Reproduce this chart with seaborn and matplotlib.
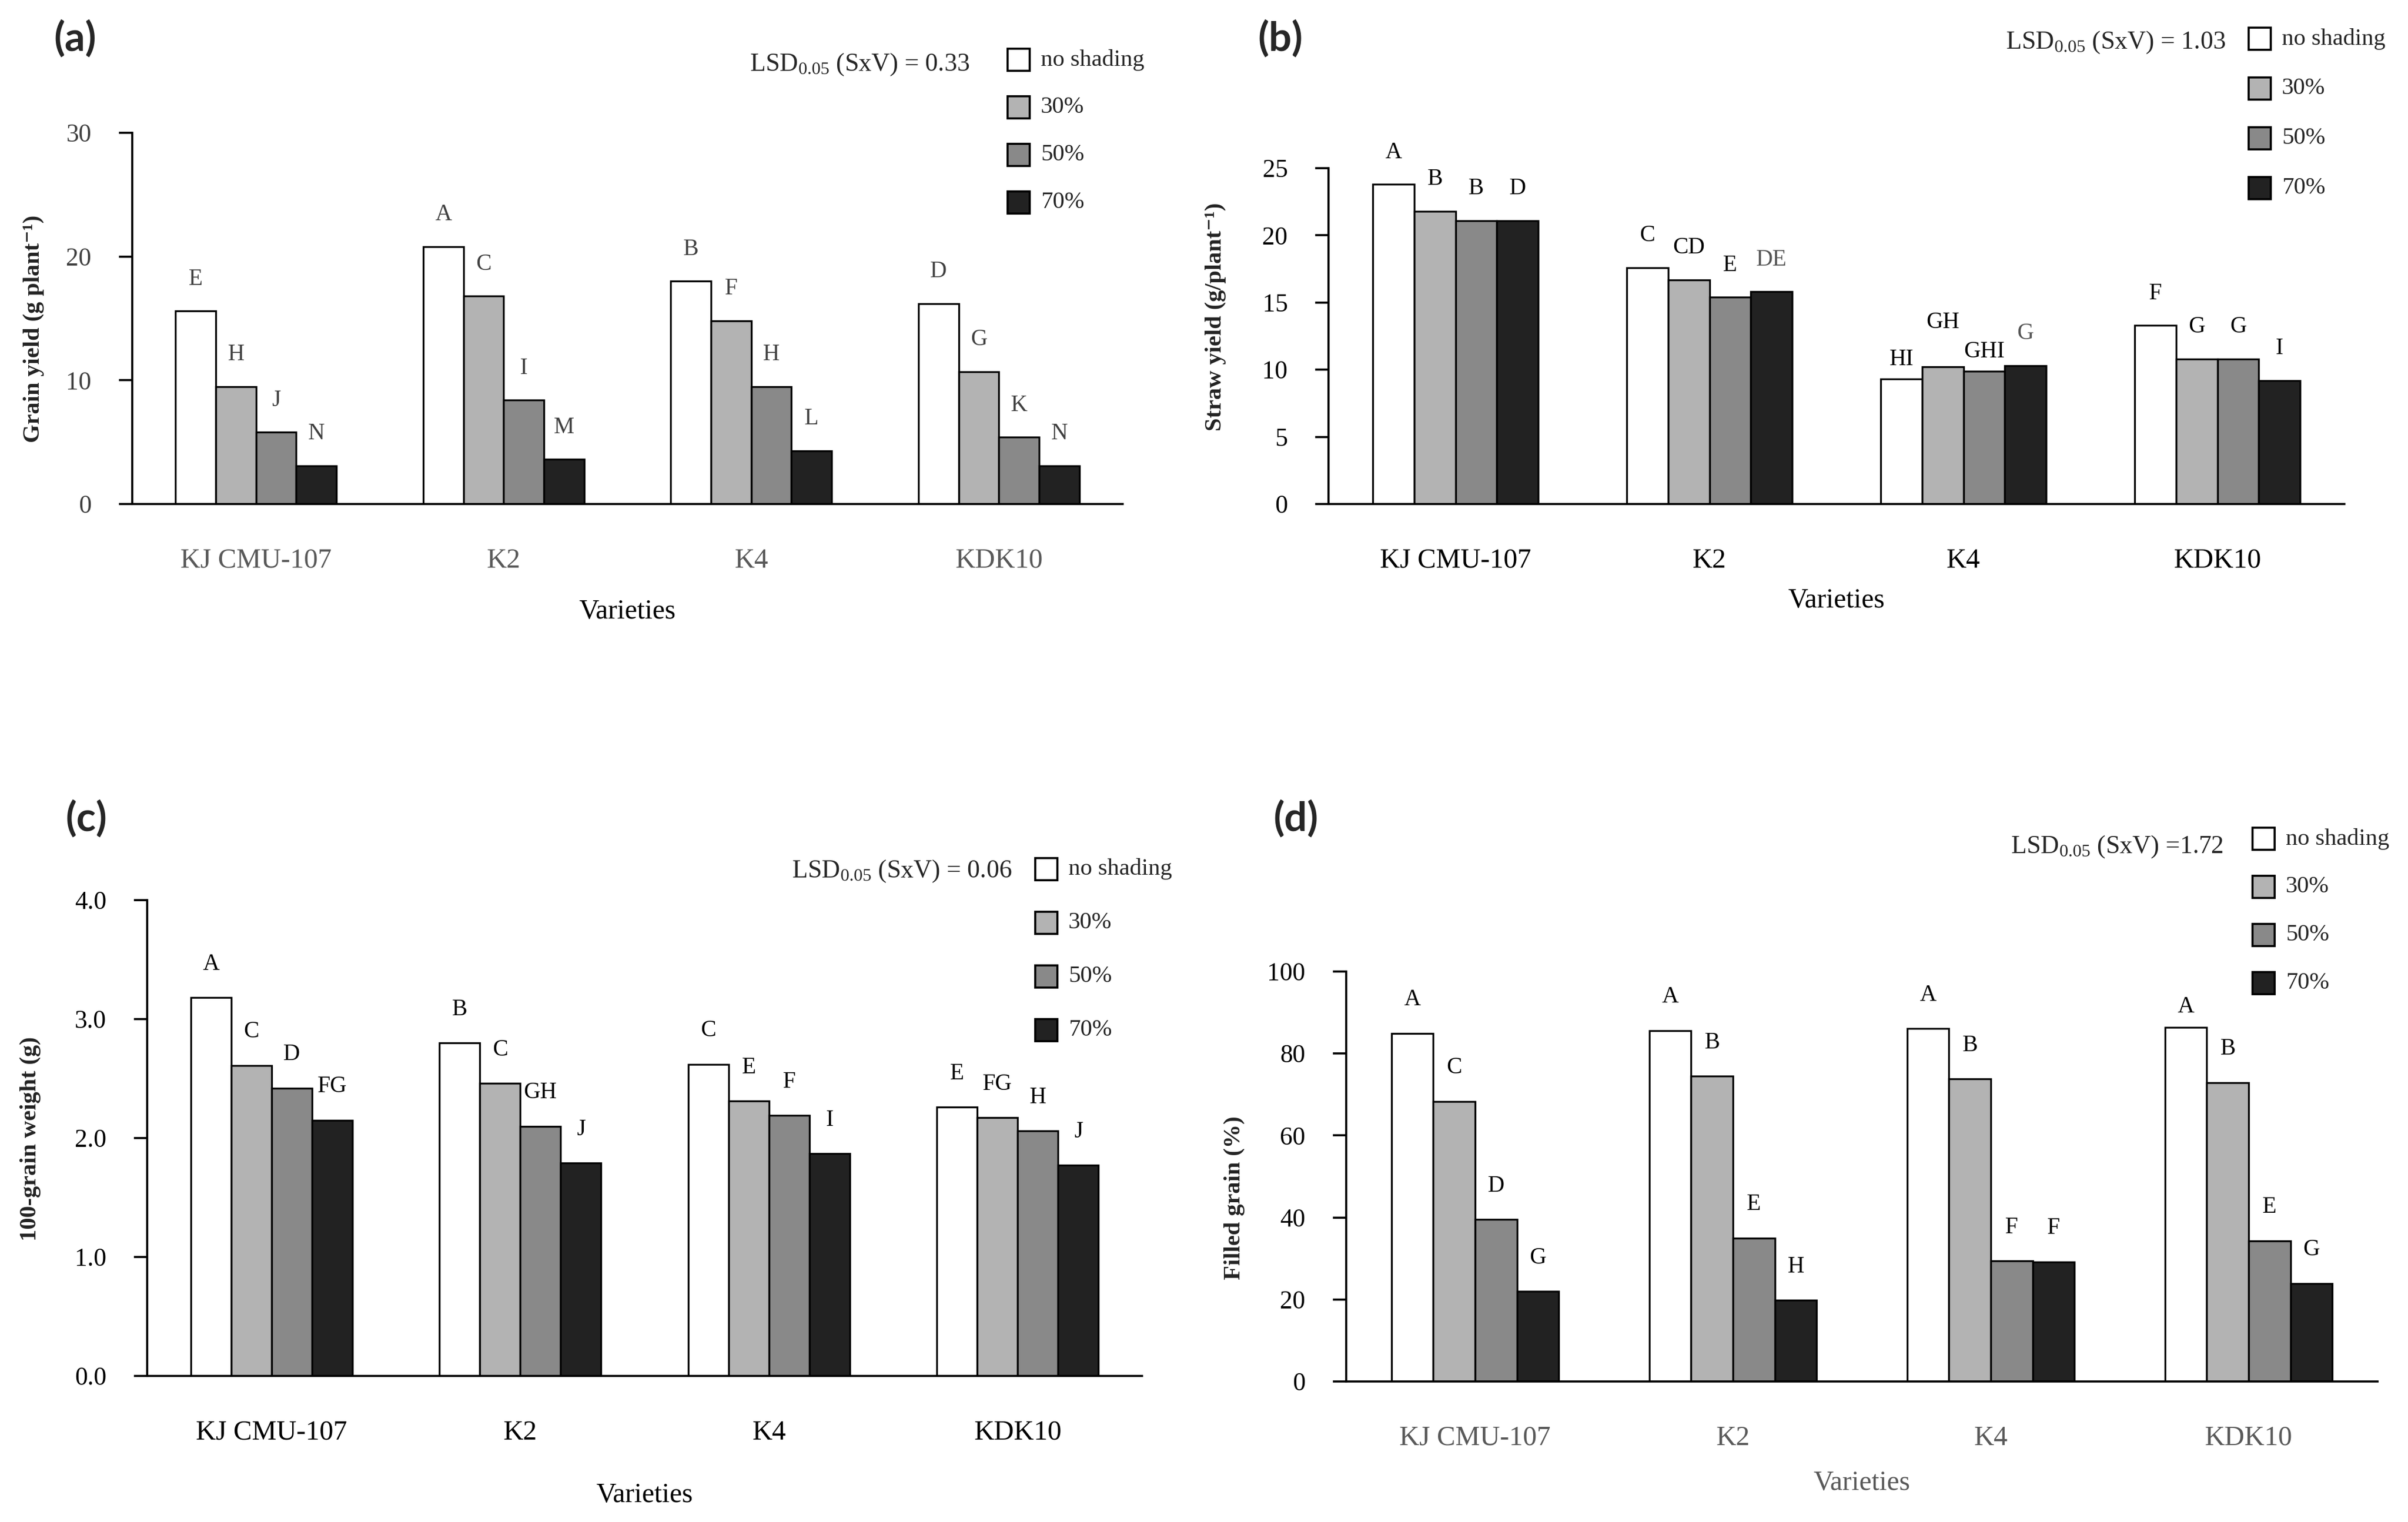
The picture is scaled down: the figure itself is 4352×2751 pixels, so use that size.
import matplotlib.pyplot as plt
from matplotlib.patches import Rectangle
from matplotlib.transforms import Bbox, TransformedBbox
import pandas as pd
import seaborn as sns

W, H = 4352, 2751

varieties = ["KJ CMU-107", "K2", "K4", "KDK10"]
shading = ["no shading", "30%", "50%", "70%"]
bar_colors = ["#ffffff", "#b3b3b3", "#898989", "#222222"]

# rows = shading level, columns = variety
grain_yield = [[15.6, 20.8, 18.0, 16.2],
               [9.5, 16.8, 14.8, 10.7],
               [5.8, 8.4, 9.5, 5.4],
               [3.1, 3.6, 4.3, 3.1]]
grain_letters = [["E", "A", "B", "D"],
                 ["H", "C", "F", "G"],
                 ["J", "I", "H", "K"],
                 ["N", "M", "L", "N"]]

straw_yield = [[23.8, 17.6, 9.3, 13.3],
               [21.8, 16.7, 10.2, 10.8],
               [21.1, 15.4, 9.9, 10.8],
               [21.1, 15.8, 10.3, 9.2]]
straw_letters = [["A", "C", "HI", "F"],
                 ["B", "CD", "GH", "G"],
                 ["B", "E", "GHI", "G"],
                 ["D", "DE", "G", "I"]]

grain_weight = [[3.18, 2.80, 2.62, 2.26],
                [2.61, 2.46, 2.31, 2.17],
                [2.42, 2.10, 2.19, 2.06],
                [2.15, 1.79, 1.87, 1.77]]
weight_letters = [["A", "B", "C", "E"],
                  ["C", "C", "E", "FG"],
                  ["D", "GH", "F", "H"],
                  ["FG", "J", "I", "J"]]

filled_grain = [[84.9, 85.6, 86.1, 86.4],
                [68.3, 74.5, 73.8, 72.9],
                [39.5, 35.0, 29.4, 34.3],
                [22.0, 19.8, 29.2, 23.9]]
filled_letters = [["A", "A", "A", "A"],
                  ["C", "B", "B", "B"],
                  ["D", "E", "F", "E"],
                  ["G", "H", "F", "G"]]

sns.set_style("ticks")
plt.rcParams["font.family"] = ["Liberation Serif", "DejaVu Serif"]
plt.rcParams["mathtext.fontset"] = "custom"
plt.rcParams["mathtext.rm"] = "Liberation Serif"
plt.rcParams["mathtext.it"] = "Liberation Serif:italic"

fig = plt.figure(figsize=(W / 300, H / 300), dpi=300)


def fx(x):
    return x / W


def fy(y):
    return 1 - y / H


def draw_panel(values, letters, box, top, ticks, fmt, ylabel, ylab_pos, lsd, lsd_pos,
               leg_pos, leg_step, tag, tag_pos, xlab_y, cat_color="black",
               letter_color="black", letter_off=11.4, nudges=None, grey_letters=(),
               clip_ylabel=False):
    left, right, y0, ytop = box
    ax = fig.add_axes([fx(left), fy(y0), fx(right - left), (y0 - ytop) / H])
    df = pd.DataFrame([
        {"variety": v, "shade": s, "value": values[i][j]}
        for i, s in enumerate(shading) for j, v in enumerate(varieties)
    ])
    sns.barplot(data=df, x="variety", y="value", hue="shade", order=varieties,
                hue_order=shading, palette=bar_colors, width=0.65, gap=0,
                edgecolor="black", linewidth=0.8, errorbar=None, legend=False, ax=ax)
    ax.set_xlim(-0.5, 3.5)
    ax.set_ylim(0, top)
    ax.set_yticks(ticks)
    ax.set_yticklabels([fmt.format(t) for t in ticks])
    sns.despine(ax=ax)
    for s in ["left", "bottom"]:
        ax.spines[s].set_linewidth(0.9)
        ax.spines[s].set_color("black")
    ax.tick_params(axis="y", length=5.7, width=0.9, pad=12, labelsize=11, colors="black")
    ax.tick_params(axis="x", length=0, pad=19, labelsize=12, labelcolor=cat_color)
    if tag == "(a)":
        for t in ax.get_yticklabels():
            t.set_color("#404040")

    ax.set_xlabel("Varieties", fontsize=12, color=cat_color if tag == "(d)" else "black")
    ax.xaxis.set_label_coords(0.5, xlab_y)
    yl = ax.set_ylabel(ylabel, fontsize=10.3, fontweight="bold", color="#222222")
    ax.yaxis.set_label_coords(ylab_pos[0], ylab_pos[1])
    if clip_ylabel:
        yl.set_clip_on(True)
        yl.set_clip_box(TransformedBbox(Bbox([[0.5, 0], [1, 1]]), fig.transFigure))

    nudges = nudges or {}
    for i, cont in enumerate(ax.containers):
        for j, bar in enumerate(cont):
            xc = bar.get_x() + bar.get_width() / 2
            col = "#555555" if (i, j) in grey_letters else letter_color
            ax.annotate(letters[i][j], (xc, bar.get_height()),
                        xytext=(0, nudges.get((i, j), letter_off)),
                        textcoords="offset points", ha="center", va="baseline",
                        fontsize=10, color=col)

    fig.text(fx(lsd_pos[0]), fy(lsd_pos[1]), lsd, ha="right", va="center", fontsize=11)

    lx, ly = leg_pos
    sq = 40
    for k, (lab, col) in enumerate(zip(shading, bar_colors)):
        yc = ly + k * leg_step
        fig.add_artist(Rectangle((fx(lx), fy(yc + sq / 2)), sq / W, sq / H,
                                 transform=fig.transFigure, facecolor=col,
                                 edgecolor="black", linewidth=0.9))
        fig.text(fx(lx + sq + 20), fy(yc), lab, ha="left", va="center", fontsize=10.3)

    fig.text(fx(tag_pos[0]), fy(tag_pos[1]), tag, ha="left", va="center",
             fontsize=17.5, fontweight="bold", family="Lato")
    return ax


draw_panel(grain_yield, grain_letters, (239, 2029, 911, 240), 30, [0, 10, 20, 30], "{:.0f}",
           "Grain yield (g plant⁻¹)", (-0.089, 0.472),
           r"LSD$_{\mathrm{0.05}}$ (SxV) = 0.33", (1752, 117),
           (1821, 108), 86, "(a)", (97, 70), -0.255,
           cat_color="#595959", letter_color="#404040")

draw_panel(straw_yield, straw_letters, (2401, 4237, 911, 304), 25, [0, 5, 10, 15, 20, 25], "{:.0f}",
           "Straw yield (g/plant⁻¹)", (-0.101, 0.558),
           r"LSD$_{\mathrm{0.05}}$ (SxV) = 1.03", (4022, 77),
           (4064, 70), 90, "(b)", (2273, 70), -0.250,
           nudges={(0, 2): 6, (1, 2): 16.8, (2, 2): 5.9},
           grey_letters=[(3, 1), (3, 2)], clip_ylabel=True)

draw_panel(grain_weight, weight_letters, (266, 2064, 2487, 1627), 4, [0, 1, 2, 3, 4], "{:.1f}",
           "100-grain weight (g)", (-0.107, 0.498),
           r"LSD$_{\mathrm{0.05}}$ (SxV) = 0.06", (1829, 1575),
           (1871, 1571), 97, "(c)", (118, 1480), -0.224, letter_off=12.1)

draw_panel(filled_grain, filled_letters, (2433, 4297, 2497, 1756), 100, [0, 20, 40, 60, 80, 100], "{:.0f}",
           "Filled grain (%)", (-0.098, 0.448),
           r"LSD$_{\mathrm{0.05}}$ (SxV) =1.72", (4018, 1531),
           (4071, 1516), 87, "(d)", (2301, 1480), -0.216,
           cat_color="#595959", letter_off=12.1, nudges={(0, 3): 6.4})

fig.savefig("out.png", dpi=300)
